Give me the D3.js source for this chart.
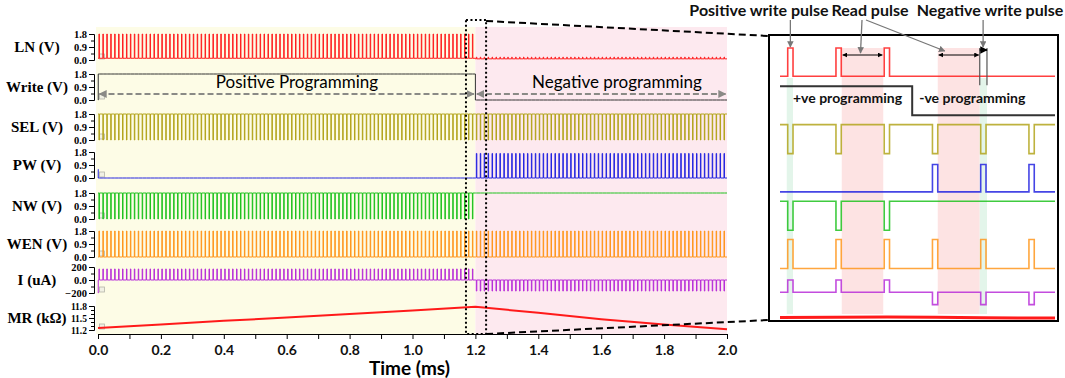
<!DOCTYPE html>
<html>
<head>
<meta charset="utf-8">
<title>Write / read timing of the memristor cell</title>
<style>
body { margin: 0; background: #fff; }
svg { display: block; }
.axis .domain { stroke: #000; }
.axis text { font-family: "Liberation Serif", serif; font-weight: bold; }
.sans { font-family: Lato, "Open Sans", sans-serif; }
</style>
<script src="https://cdn.jsdelivr.net/npm/d3@7"></script>
</head>
<body>
<svg width="1065" height="378"></svg>
<script>

// ---- data ----
var timeTicks = [0, 0.2, 0.4, 0.6, 0.8, 1.0, 1.2, 1.4, 1.6, 1.8, 2.0];   // ms
var phaseEdges = [0, 1.2, 2.0];
var phaseNames = ["Positive Programming", "Negative programming"];
var pulsePeriod = 0.0125;   // ms
var pulseWidth = 0.0015;
var pulseOffset = 0.003;

var signalNames = ["LN (V)", "Write (V)", "SEL (V)", "PW (V)", "NW (V)", "WEN (V)", "I (uA)", "MR (k\u03A9)"];

// level between pulses / level during pulses, one entry per phase
var lnBase = [0.12, 0.08],  lnPulse = [1.8, 0.2];
var writeBase = [1.8, 0],   writePulse = [1.8, 0];
var selBase = [1.8, 1.8],   selPulse = [0, 0];
var pwBase = [0, 0],        pwPulse = [0, 1.7];
var nwBase = [1.8, 1.8],    nwPulse = [0, 1.8];
var wenBase = [0, 0],       wenPulse = [1.8, 1.8];
var iBase = [0, 0],         iPulse = [170, -170];
// value at t = 0 before the first step
var startLevels = [null, 0, null, 0.6, null, null, -200, null];

var mrTime  = [0, 0.2, 0.4, 0.6, 0.8, 1.0, 1.2, 1.4, 1.6, 1.8, 2.0];
var mrValue = [11.25, 11.34, 11.43, 11.51, 11.60, 11.69, 11.78, 11.63, 11.47, 11.34, 11.22];

var voltTicks = [0, 0.9, 1.8], voltMinor = [0.45, 1.35];
var curTicks = [-200, 0, 200], curMinor = [-100, 100];
var mrTicks = [11.2, 11.5, 11.8], mrMinor = [11.3, 11.4, 11.6, 11.7];

// zoomed window (ms) and its content in us from the window start
var windowRange = [1.17, 1.234];
var insetDomain = [0, 57];
var insetPulses = [1.6, 11.6, 21.6, 31.6, 41.6, 51.6];
var insetPulseWidth = 1.1;
var insetSwitch = 27.4;
var insetReadSpans = [[12.8, 21.4], [32.7, 41.4]];
var insetWriteSpans = [[1.4, 2.7], [41.4, 42.9]];
var insetMrTime = [0, 22.2, 32.2, 42.2, 57];
var insetMrValue = [11.77, 11.78, 11.775, 11.765, 11.76];
var insetPhaseNames = ["+ve programming", "-ve programming"];
var callouts = ["Positive write pulse", "Read pulse", "Negative write pulse"];

// ---- layout ----
var colors = ["#ff1f1f", "#333333", "#b3a41c", "#2424e0", "#1ec21e", "#ff961c", "#b82ed8", "#ff1a1a"];
var panelTop = [34, 74, 114, 152, 193, 231, 267, 306];
var panelH = 26;

var svg = d3.select("svg");
var x = d3.scaleLinear().domain([0, 2]).range([98, 727]);

var bases = [lnBase, writeBase, selBase, pwBase, nwBase, wenBase, iBase];
var pulses = [lnPulse, writePulse, selPulse, pwPulse, nwPulse, wenPulse, iPulse];

function yScale(i, top, h) {
  var dom = i == 6 ? [-200, 200] : (i == 7 ? [11.2, 11.8] : [0, 1.8]);
  return d3.scaleLinear().domain(dom).range([top + h, top]);
}

// builds a step signal from pulse start times
function steps(starts, width, edges, base, pulse, first) {
  var ph = function(t) { return Math.min(d3.bisectRight(edges, t) - 1, base.length - 1); };
  var pts = [[edges[0], base[0]]];
  edges.slice(1, -1).forEach(function(e) { pts.push([e, base[ph(e)]]); });
  starts.forEach(function(s) {
    var p = ph(s);
    pts.push([s, pulse[p]]);
    pts.push([s + width, base[p]]);
  });
  pts.push([edges[edges.length - 1], base[base.length - 1]]);
  if (first != null) {
    pts[0] = [edges[0], first];
    pts.push([edges[0] + width * 0.5, base[0]]);
  }
  pts.sort(function(a, b) { return a[0] - b[0]; });
  return pts;
}

var mainStarts = [];
for (var p = 0; p < phaseEdges.length - 1; p++) {
  for (var k = 0; phaseEdges[p] + pulseOffset + k * pulsePeriod + pulseWidth < phaseEdges[p + 1]; k++)
    mainStarts.push(phaseEdges[p] + pulseOffset + k * pulsePeriod);
}

// phase backgrounds
svg.append("rect").attr("x", x(0) - 2).attr("y", 27).attr("width", x(1.2) - x(0) + 2).attr("height", 307).attr("fill", "#fdfce6");
svg.append("rect").attr("x", x(1.2)).attr("y", 27).attr("width", x(2) - x(1.2)).attr("height", 307).attr("fill", "#fde9ef");

// panels
signalNames.forEach(function(name, i) {
  var top = panelTop[i];
  var h = i == 7 ? 24 : panelH;
  var y = yScale(i, top, h);
  var g = svg.append("g");

  var major = i == 6 ? curTicks : (i == 7 ? mrTicks : voltTicks);
  var minor = i == 6 ? curMinor : (i == 7 ? mrMinor : voltMinor);
  var fmt = function(d) { return i == 6 && d != 0 ? d3.format("d")(d) : d3.format(".1f")(d); };

  g.append("g").attr("class", "axis").attr("transform", "translate(94,0)")
    .call(d3.axisLeft(y).tickValues(major).tickFormat(fmt).tickSize(5).tickSizeOuter(0).tickPadding(2))
    .selectAll("text").attr("font-size", i == 7 ? 9.5 : 10.5);
  g.append("g").attr("class", "axis").attr("transform", "translate(94,0)")
    .call(d3.axisLeft(y).tickValues(minor).tickFormat("").tickSize(3).tickSizeOuter(0));

  g.append("text").attr("x", 37).attr("y", top + h / 2 + 5)
    .attr("text-anchor", "middle").attr("font-family", "Liberation Serif, serif")
    .attr("font-weight", "bold").attr("font-size", 15).text(name);

  g.append("rect").attr("x", x(0) + 1.5).attr("y", top + h - 6).attr("width", 5).attr("height", 5)
    .attr("fill", "#f1f1e4").attr("stroke", "#b4b4a8").attr("stroke-width", 0.8);

  var line = d3.line().x(function(d) { return x(d[0]); }).y(function(d) { return y(d[1]); });
  if (i < 7) {
    var pts = steps(mainStarts, pulseWidth, phaseEdges, bases[i], pulses[i], startLevels[i]);
    g.append("path").attr("d", line.curve(d3.curveStepAfter)(pts))
      .attr("fill", "none").attr("stroke", colors[i]).attr("stroke-width", 1);
  } else {
    g.append("path").attr("d", line(d3.zip(mrTime, mrValue)))
      .attr("fill", "none").attr("stroke", colors[i]).attr("stroke-width", 2);
  }
});

// time axis
var xAxis = svg.append("g").attr("transform", "translate(0,334)")
  .call(d3.axisBottom(x).ticks(20).tickSize(5).tickPadding(6).tickSizeOuter(0).tickFormat(function(d) {
    return timeTicks.some(function(t) { return Math.abs(t - d) < 1e-9; }) ? d3.format(".1f")(d) : "";
  }));
xAxis.selectAll("text").attr("font-family", "Lato, sans-serif").attr("font-weight", "bold")
  .attr("font-size", 14).attr("fill", "#111");
svg.append("text").attr("class", "sans").attr("x", (x(0) + x(2)) / 2 - 3).attr("y", 375)
  .attr("text-anchor", "middle").attr("font-weight", "bold").attr("font-size", 19).text("Time (ms)");

// phase arrows across the Write panel
var defs = svg.append("defs");
function marker(id, color, size) {
  defs.append("marker").attr("id", id).attr("viewBox", "0 0 10 10").attr("refX", 9).attr("refY", 5)
    .attr("markerWidth", size).attr("markerHeight", size).attr("orient", "auto-start-reverse")
    .append("path").attr("d", "M0,0L10,5L0,10z").attr("fill", color);
}
marker("ag", "#8a8a86", 4);
marker("ak", "#000", 5);
marker("ap", "#777", 5);

var arrowY = panelTop[1] + 20;
phaseNames.forEach(function(name, p) {
  var a = x(phaseEdges[p]) + 1.5, b = x(phaseEdges[p + 1]) - 1.5;
  svg.append("line").attr("x1", a).attr("x2", b).attr("y1", arrowY).attr("y2", arrowY)
    .attr("stroke", "#8a8a86").attr("stroke-width", 2).attr("stroke-dasharray", "6,3")
    .attr("marker-start", "url(#ag)").attr("marker-end", "url(#ag)");
  svg.append("text").attr("class", "sans").attr("x", p == 0 ? 297 : 617).attr("y", arrowY - 6)
    .attr("text-anchor", "middle").attr("font-size", 17).attr("fill", "#000").text(name);
});

// dotted zoom window and connectors
var wx0 = x(windowRange[0]), wx1 = x(windowRange[1]);
svg.append("rect").attr("x", wx0).attr("y", 20).attr("width", wx1 - wx0).attr("height", 314)
  .attr("fill", "none").attr("stroke", "#000").attr("stroke-width", 2).attr("stroke-dasharray", "2,2.5");

var box = {x: 769, y: 35, w: 289, h: 286};
svg.append("line").attr("x1", wx1).attr("y1", 21).attr("x2", box.x).attr("y2", box.y + 1)
  .attr("stroke", "#000").attr("stroke-width", 2).attr("stroke-dasharray", "7,4");
svg.append("line").attr("x1", wx1).attr("y1", 334).attr("x2", box.x).attr("y2", box.y + box.h - 1)
  .attr("stroke", "#000").attr("stroke-width", 2).attr("stroke-dasharray", "7,4");

// ---- inset ----
var xi = d3.scaleLinear().domain(insetDomain).range([780, 1055]);
var rowTop = function(i) { return 48 + i * 38.3; };
var rowH = 29;
var inset = svg.append("g");
inset.append("rect").attr("x", box.x).attr("y", box.y).attr("width", box.w).attr("height", box.h)
  .attr("fill", "#fff").attr("stroke", "#000").attr("stroke-width", 2);

insetReadSpans.forEach(function(s) {
  inset.append("rect").attr("x", xi(s[0])).attr("y", rowTop(0)).attr("width", xi(s[1]) - xi(s[0]))
    .attr("height", 314 - rowTop(0)).attr("fill", "#fde3e3");
});
insetWriteSpans.forEach(function(s) {
  inset.append("rect").attr("x", xi(s[0])).attr("y", rowTop(0) + rowH + 1).attr("width", xi(s[1]) - xi(s[0]))
    .attr("height", 314 - rowTop(0) - rowH - 1).attr("fill", "#e3f5ea");
});

var insetEdges = [insetDomain[0], insetSwitch, insetDomain[1]];
signalNames.forEach(function(name, i) {
  var y = yScale(i, rowTop(i), rowH);
  var line = d3.line().x(function(d) { return xi(d[0]); }).y(function(d) { return y(d[1]); });
  if (i < 7) {
    var b = i == 0 ? [0.05, 0.05] : bases[i];
    var pu = i == 0 ? [1.8, 0.05] : pulses[i];
    var pts = steps(insetPulses, insetPulseWidth, insetEdges, b, pu, null);
    inset.append("path").attr("d", line.curve(d3.curveStepAfter)(pts))
      .attr("fill", "none").attr("stroke", colors[i]).attr("stroke-width", i == 1 ? 2 : 1.6)
      .attr("stroke-opacity", i == 1 ? 1 : 0.85);
  } else {
    inset.append("path").attr("d", line(d3.zip(insetMrTime, insetMrValue)))
      .attr("fill", "none").attr("stroke", colors[i]).attr("stroke-width", 3);
  }
});

insetPhaseNames.forEach(function(name, p) {
  inset.append("text").attr("class", "sans").attr("x", p == 0 ? xi(insetDomain[0]) + 13 : xi(insetSwitch) + 7)
    .attr("y", rowTop(1) + 17).attr("font-weight", "bold").attr("font-size", 14).attr("fill", "#111").text(name);
});

// read pulse spans and negative write pulse width
var spanY = rowTop(0) + 7;
insetReadSpans.forEach(function(s) {
  inset.append("line").attr("x1", xi(s[0]) + 1).attr("x2", xi(s[1]) - 1).attr("y1", spanY).attr("y2", spanY)
    .attr("stroke", "#000").attr("stroke-width", 1)
    .attr("marker-start", "url(#ak)").attr("marker-end", "url(#ak)");
});
var nw = insetWriteSpans[1];
[nw[0], nw[1]].forEach(function(t) {
  inset.append("line").attr("x1", xi(t)).attr("x2", xi(t)).attr("y1", rowTop(0)).attr("y2", rowTop(1) - 1)
    .attr("stroke", "#555").attr("stroke-width", 1.2);
});
inset.append("line").attr("x1", xi(nw[0])).attr("x2", xi(nw[1])).attr("y1", rowTop(0) + 2).attr("y2", rowTop(0) + 2)
  .attr("stroke", "#000").attr("stroke-width", 1.5).attr("marker-end", "url(#ak)");

// callouts above the inset
var calloutX = [759, 870, 990];
callouts.forEach(function(c, j) {
  svg.append("text").attr("class", "sans").attr("x", calloutX[j]).attr("y", 16).attr("text-anchor", "middle")
    .attr("font-weight", "bold").attr("font-size", 16).attr("fill", "#111").text(c);
});
var pointers = [
  [xi(insetPulses[0] + 0.55), xi(insetPulses[0] + 0.55), rowTop(0) - 1],
  [862, xi((insetReadSpans[0][0] + insetReadSpans[0][1]) / 2) - 2, spanY - 2],
  [866, xi(insetReadSpans[1][0]) + 7, spanY - 4],
  [xi(insetPulses[4] + 0.5), xi(insetPulses[4] + 0.5), rowTop(0) - 1]
];
pointers.forEach(function(q) {
  svg.append("line").attr("x1", q[0]).attr("y1", 20).attr("x2", q[1]).attr("y2", q[2])
    .attr("stroke", "#777").attr("stroke-width", 1.3).attr("marker-end", "url(#ap)");
});

</script>
</body>
</html>
